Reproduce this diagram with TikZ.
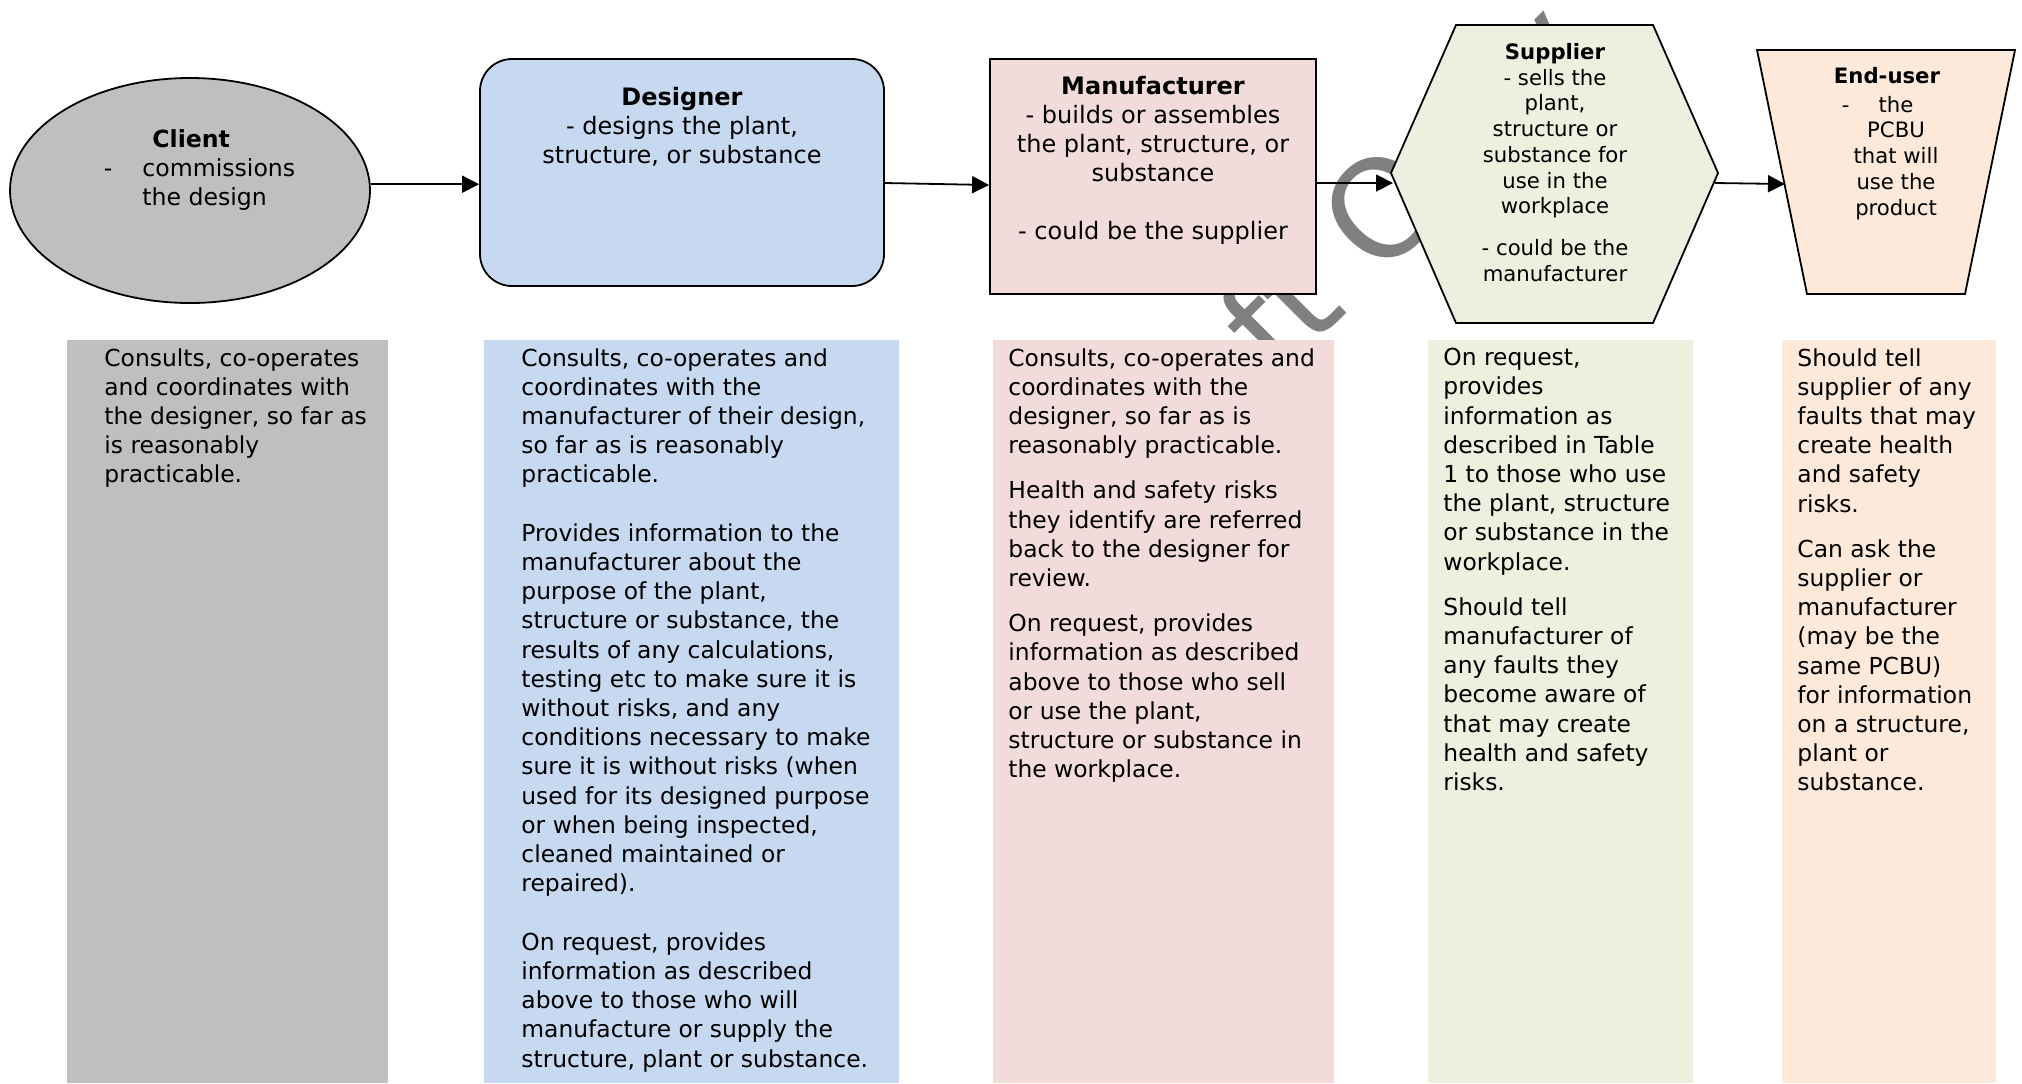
\documentclass[tikz,border=0pt]{standalone}
\usepackage{fontspec}
\setmainfont{DejaVu Sans}
\usetikzlibrary{arrows.meta,shapes.geometric}
\definecolor{cgray}{HTML}{BFBFBF}
\definecolor{cblue}{HTML}{C6D9F1}
\definecolor{cpink}{HTML}{F2DCDB}
\definecolor{cgreen}{HTML}{EBF1DE}
\definecolor{cpeach}{HTML}{FDE9D9}
\definecolor{wmgray}{HTML}{808080}
\tikzset{
  shp/.style={draw=black, line width=0.9pt},
  lbl/.style={align=center, inner sep=0pt, font=\fontsize{12pt}{14.5pt}\selectfont},
  slbl/.style={align=center, inner sep=0pt, font=\fontsize{10.6pt}{12.85pt}\selectfont},
  coltext/.style={align=left, anchor=north west, inner sep=0pt, font=\fontsize{11.7pt}{14.6pt}\selectfont},
  arr/.style={line width=0.9pt, -{Triangle[length=8.5pt,width=8.5pt]}},
  wmark/.style={text=wmgray, inner sep=0pt, font=\fontsize{68pt}{80pt}\selectfont}
}
\begin{document}
\begin{tikzpicture}[x=0.5pt,y=-0.5pt]
\useasboundingbox (0,0) rectangle (2022,1083);
\fill[white] (0,0) rectangle (2022,1083);

% watermark (behind everything)
\node[wmark, anchor=base west, rotate=45] (wm) at (1106,554) {Draft Only};

% bottom columns
\fill[cgray]  (67,340)   rectangle (388,1083);
\fill[cblue]  (484,340)  rectangle (899,1083);
\fill[cpink]  (993,340)  rectangle (1334,1083);
\fill[cgreen] (1428,340) rectangle (1693,1083);
\fill[cpeach] (1782,340) rectangle (1996,1083);

% top shapes
\node[shp, fill=cgray, ellipse, minimum width=180pt, minimum height=112.5pt, inner sep=0pt] (client) at (190,190.5) {};
\node[shp, fill=cblue, rectangle, rounded corners=16pt, minimum width=202pt, minimum height=113.5pt, inner sep=0pt] (designer) at (682,172.5) {};
\node[shp, fill=cpink, rectangle, minimum width=163pt, minimum height=117.5pt, inner sep=0pt] (manu) at (1153,176.5) {};
\draw[shp, fill=cgreen] (1456,25) -- (1653,25) -- (1718,173) -- (1653,323) -- (1456,323) -- (1391,173) -- cycle;
\draw[shp, fill=cpeach] (1757,50) -- (2015,50) -- (1965,294) -- (1807,294) -- cycle;

% labels
\node[lbl, align=left, anchor=north west, font=\fontsize{11.8pt}{14.5pt}\selectfont] (clientlbl) at (142,129)
  {\hspace*{5pt}\textbf{Client}\\\llap{-\hspace{15pt}}commissions\\the design};
\node[lbl, anchor=north] (designerlbl) at (682,87)
  {\textbf{Designer}\\- designs the plant,\\structure, or substance};
\node[lbl, anchor=north] (manulbl) at (1153,76)
  {\textbf{Manufacturer}\\- builds or assembles\\the plant, structure, or\\substance\\[14.5pt]- could be the supplier};
\node[slbl, anchor=north] (supplier) at (1555,43)
  {\textbf{Supplier}\\- sells the\\plant,\\structure or\\substance for\\use in the\\workplace\\[8pt]- could be the\\manufacturer};
\node[slbl, anchor=north] (enduser) at (1896,67)
  {\textbf{End-user}\hspace*{9pt}\\[1.5pt]\llap{-\hspace{14.5pt}}the\\PCBU\\that will\\use the\\product};

% connectors
\coordinate (supIn) at (1393,183);
\coordinate (supOut) at (1715,183);
\coordinate (euIn) at (1785,184);
\draw[arr] (client.2.7) -- (client.2.7 -| designer.west);
\draw[arr] ([yshift=-5.25pt]designer.east) -- ([yshift=-4.25pt]manu.west);
\draw[arr] ([yshift=-3.25pt]manu.east) -- (supIn);
\draw[arr] (supOut) -- (euIn);

% column texts
\node[coltext] (clienttxt) at (104,348)
  {Consults, co-operates\\and coordinates with\\the designer, so far as\\is reasonably\\practicable.};
\node[coltext] (designertxt) at (521,348)
  {Consults, co-operates and\\coordinates with the\\manufacturer of their design,\\so far as is reasonably\\practicable.\\[14.6pt]%
Provides information to the\\manufacturer about the\\purpose of the plant,\\structure or substance, the\\results of any calculations,\\testing etc to make sure it is\\without risks, and any\\conditions necessary to make\\sure it is without risks (when\\used for its designed purpose\\or when being inspected,\\cleaned maintained or\\repaired).\\[14.6pt]%
On request, provides\\information as described\\above to those who will\\manufacture or supply the\\structure, plant or substance.};
\node[coltext] (manutxt) at (1008,348)
  {Consults, co-operates and\\coordinates with the\\designer, so far as is\\reasonably practicable.\\[8pt]%
Health and safety risks\\they identify are referred\\back to the designer for\\review.\\[8pt]%
On request, provides\\information as described\\above to those who sell\\or use the plant,\\structure or substance in\\the workplace.};
\node[coltext] (suppliertxt) at (1443,348)
  {On request,\\provides\\information as\\described in Table\\1 to those who use\\the plant, structure\\or substance in the\\workplace.\\[8pt]%
Should tell\\manufacturer of\\any faults they\\become aware of\\that may create\\health and safety\\risks.};
\node[coltext] (endusertxt) at (1797,348)
  {Should tell\\supplier of any\\faults that may\\create health\\and safety\\risks.\\[8pt]%
Can ask the\\supplier or\\manufacturer\\(may be the\\same PCBU)\\for information\\on a structure,\\plant or\\substance.};
\end{tikzpicture}
\end{document}
